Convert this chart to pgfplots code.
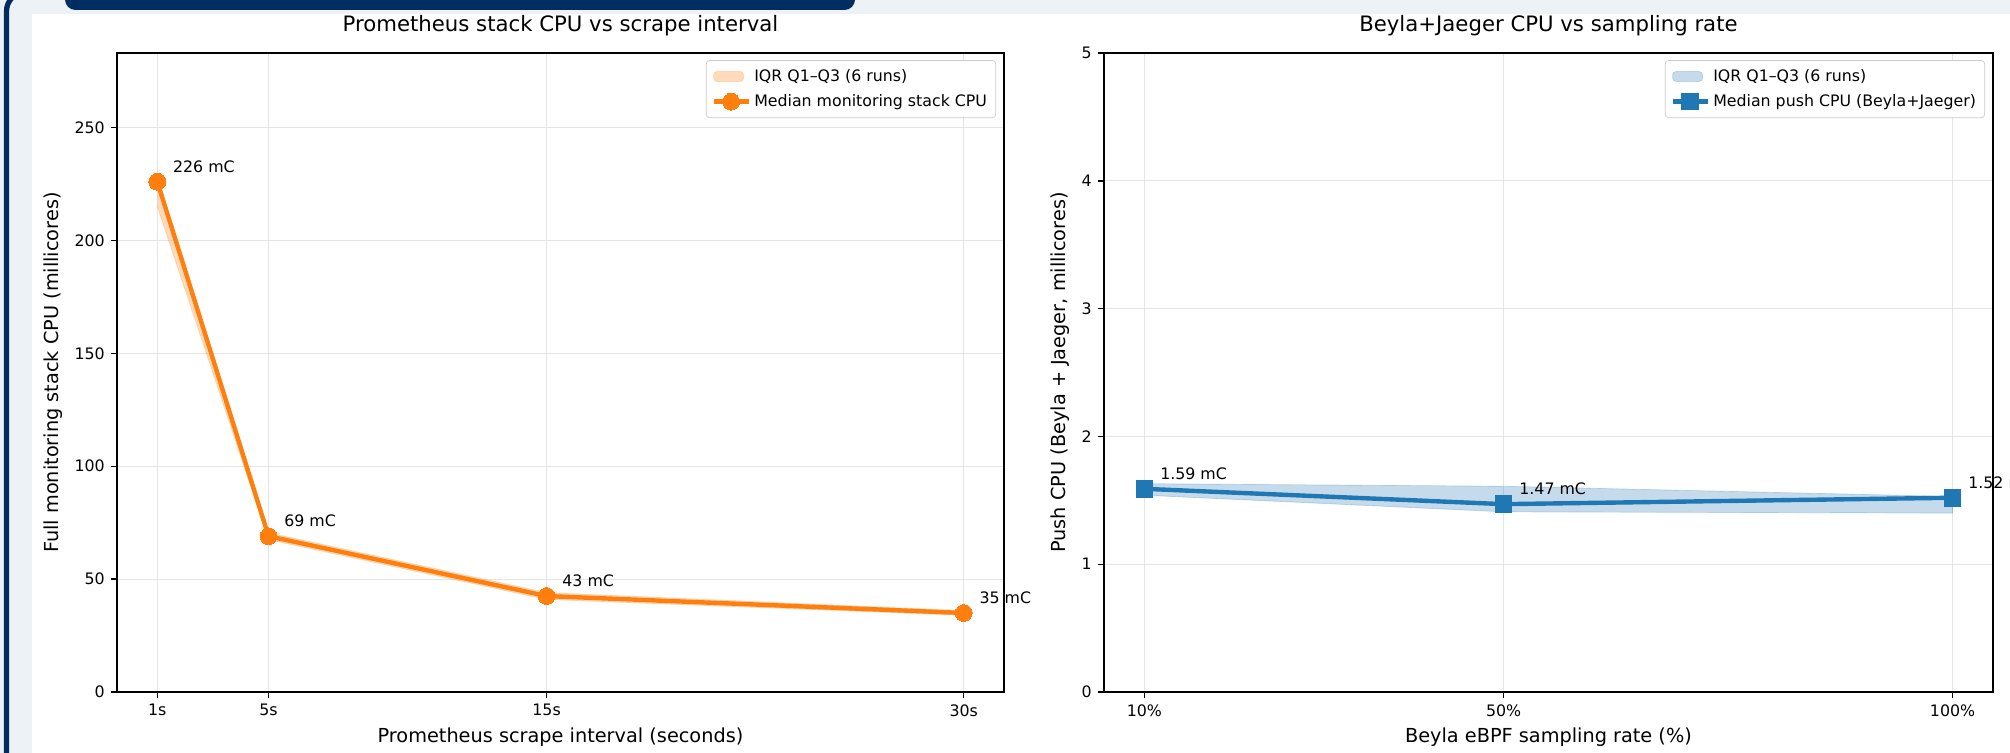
\documentclass[border=0pt]{standalone}
\usepackage{pgfplots}
\pgfplotsset{compat=1.18}
\usepackage{fontspec}
\setmainfont{DejaVu Sans}
\definecolor{navy}{HTML}{002D62}
\definecolor{bgc}{HTML}{EDF2F7}
\definecolor{mplorange}{HTML}{FF7F0E}
\definecolor{mplblue}{HTML}{1F77B4}
\pgfplotsset{
  myax/.style={
    scale only axis, height=364.2pt,
    axis line style={black, line width=0.8pt},
    tick align=outside, tick pos=left, major tick length=3.5pt,
    tick style={black, line width=0.8pt},
    grid=major, grid style={black!10, line width=0.6pt},
    tick label style={font=\fontsize{9}{11}\selectfont},
    label style={font=\fontsize{11}{13}\selectfont},
    title style={font=\fontsize{12.1}{14}\selectfont},
    /pgf/number format/assume math mode=true,
    legend style={at={(1,1)}, anchor=north east, xshift=-4.5pt, yshift=-4pt,
      draw=black!20, rounded corners=2pt, font=\fontsize{9}{11}\selectfont,
      cells={anchor=west}, row sep=2pt, inner sep=3pt},
    clip=false,
  },
  longline/.style={legend image code/.code={\draw[mark repeat=2,mark phase=2,##1] plot coordinates {(0cm,0cm) (0.35cm,0cm) (0.7cm,0cm)};}},
}
\tikzset{annot/.style={anchor=base west, xshift=5.5pt, yshift=5.5pt, font=\fontsize{9}{11}\selectfont}}
\begin{document}
\begin{tikzpicture}[x=0.57pt, y=0.57pt]
\useasboundingbox (0,0) rectangle (2010,753);
\clip (0,0) rectangle (2010,753);
\fill[bgc] (0,0) rectangle (2010,753);
\fill[white] (32,-10) rectangle (2010,739);
\draw[navy, line width=3pt, rounded corners=11pt] (6.5,-20) -- (6.5,761) -- (80,761);
\fill[navy, rounded corners=6pt] (65,743) rectangle (855,766);

% Left axis
\begin{axis}[myax, at={(66.69pt,34.77pt)}, anchor=south west, width=505.6pt,
  xmin=-0.45, xmax=31.45, ymin=0, ymax=283,
  xtick={1,5,15,30}, xticklabels={1s,5s,15s,30s},
  ytick={0,50,100,150,200,250},
  title={Prometheus stack CPU vs scrape interval},
  xlabel={Prometheus scrape interval (seconds)},
  ylabel={Full monitoring stack CPU (millicores)}]
\addplot[fill=mplorange, fill opacity=0.28, draw=mplorange, draw opacity=0.25, area legend]
  coordinates {(1,228) (5,70.5) (15,44) (30,36) (30,34) (15,41) (5,67.5) (1,215)};
\addlegendentry{IQR Q1–Q3 (6 runs)}
\addplot[mplorange, line width=2.5pt, mark=*, mark size=4.8pt, mark options={solid, fill=mplorange, draw=mplorange, line width=0pt}, longline]
  coordinates {(1,226) (5,69) (15,42.5) (30,35)};
\addlegendentry{Median monitoring stack CPU}
\node[annot] at (axis cs:1,226) {226 mC};
\node[annot] at (axis cs:5,69) {69 mC};
\node[annot] at (axis cs:15,42.5) {43 mC};
\node[annot] at (axis cs:30,35) {35 mC};
\end{axis}

% Right axis
\begin{axis}[myax, at={(629.28pt,34.77pt)}, anchor=south west, width=506.7pt,
  xmin=5.5, xmax=104.5, ymin=0, ymax=5,
  xtick={10,50,100}, xticklabels={10\%,50\%,100\%},
  ytick={0,1,2,3,4,5},
  title={Beyla+Jaeger CPU vs sampling rate},
  xlabel={Beyla eBPF sampling rate (\%)},
  ylabel={Push CPU (Beyla + Jaeger, millicores)}]
\addplot[fill=mplblue, fill opacity=0.26, draw=mplblue, draw opacity=0.25, area legend]
  coordinates {(10,1.63) (50,1.61) (100,1.53) (100,1.40) (50,1.41) (10,1.54)};
\addlegendentry{IQR Q1–Q3 (6 runs)}
\addplot[mplblue, line width=2.5pt, mark=square*, mark size=4.7pt, mark options={solid, fill=mplblue, draw=mplblue, line width=0pt}, longline]
  coordinates {(10,1.59) (50,1.47) (100,1.52)};
\addlegendentry{Median push CPU (Beyla+Jaeger)}
\node[annot] at (axis cs:10,1.59) {1.59 mC};
\node[annot] at (axis cs:50,1.47) {1.47 mC};
\node[annot] at (axis cs:100,1.52) {1.52 mC};
\end{axis}
\end{tikzpicture}
\end{document}
